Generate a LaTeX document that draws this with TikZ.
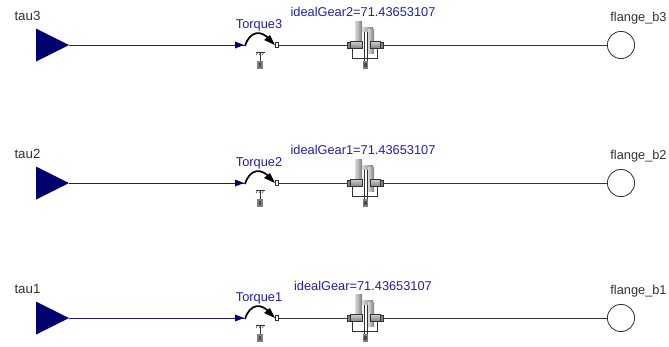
\documentclass[tikz,border=0pt]{standalone}
\usepackage{fontspec}
\setmainfont{Liberation Sans}
\definecolor{inblue}{HTML}{00006E}
\definecolor{sigblue}{HTML}{1A1A80}
\definecolor{labelblue}{HTML}{1E1EB4}
\definecolor{gearline}{HTML}{333333}
\usetikzlibrary{positioning}
\tikzset{
  inport/.style={fill=inblue, draw=none},
  sigline/.style={draw=sigblue, line width=0.7pt},
  shaft/.style={draw=gearline, line width=0.7pt},
  flangeport/.style={circle, draw=gearline, fill=white, line width=0.6pt, minimum size=20.4pt, inner sep=0pt},
  taulabel/.style={font=\fontsize{10}{12}\selectfont, text=black!80, inner sep=0pt},
  namelabel/.style={font=\fontsize{9.6}{12}\selectfont, text=black!80, inner sep=0pt},
  bluelabel/.style={font=\fontsize{9.6}{12}\selectfont, text=labelblue, inner sep=0pt},
  gearblock/.style={left color=white!70!gray, right color=gray, draw=none},
  hubblock/.style={top color=white!60!gray, bottom color=gray, draw=gearline, line width=0.4pt},
  flangebox/.style={gearline, fill=gray, line width=0.6pt},
  fixbox/.style={draw=gray, fill=black!70, line width=1pt}
}
\begin{document}
\begin{tikzpicture}[x=0.75pt, y=-0.75pt]
  \useasboundingbox (0,0) rectangle (669,347);
  \def\gearx{365}
  \foreach \n/\ypos/\gearname/\trq/\gy in{%
    3/45/{idealGear2}/{Torque3}/12,
    2/183/{idealGear1}/{Torque2}/150,
    1/318/{idealGear}/{Torque1}/286
  }{%
    % input triangle
    \coordinate (tip\n) at (69, \ypos);
    \fill[inport] (36, \ypos-16.5) -- (tip\n) -- (36, \ypos+16.5) -- cycle;
    \node[taulabel] (tau\n) at (27.5, \ypos-29) {tau\n};
    % torque block
    \coordinate (torquein\n) at (244, \ypos);
    \coordinate (torqueout\n) at (278, \ypos);
    \draw[sigline] (tip\n) -- (torquein\n);
    \fill[inblue] (torquein\n) -- ++(-9,-3.5) -- ++(0,7) -- cycle;
    \draw[black, line width=1.3pt] (245, \ypos+1) .. controls (250, \ypos-15) and (262, \ypos-15) .. (270, \ypos-5);
    \fill[black] (275, \ypos) -- (264, \ypos-5) -- (270, \ypos-10) -- cycle;
    \draw[gearline, fill=white, line width=0.5pt] (275, \ypos-2.5) rectangle (278, \ypos+2.5);
    \node[bluelabel] (torque\n) at (259, \ypos-20) {\trq};
    % support
    \draw[gearline, line width=0.5pt] (255.5, \ypos+7) -- (264.5, \ypos+7) (260, \ypos+7) -- (260, \ypos+17);
    \draw[gearline, line width=0.4pt] (256, \ypos+10) -- (258, \ypos+7) (259, \ypos+10) -- (261, \ypos+7) (262, \ypos+10) -- (264, \ypos+7);
    \draw[fixbox] (258, \ypos+17) rectangle (262, \ypos+23);
    % gear
    \fill[gearblock] (\gearx-10, \ypos-24) rectangle (\gearx-3, \ypos);
    \fill[gearblock] (\gearx-3, \ypos-18) rectangle (\gearx+8, \ypos-14);
    \fill[gearblock] (\gearx+3, \ypos-16) rectangle (\gearx+9, \ypos+8);
    \draw[hubblock] (\gearx-15, \ypos-3.5) rectangle (\gearx-3, \ypos+3.5);
    \draw[hubblock] (\gearx+5, \ypos-3.5) rectangle (\gearx+15, \ypos+3.5);
    \draw[flangebox] (\gearx-18, \ypos-3) rectangle (\gearx-15, \ypos+3);
    \draw[flangebox] (\gearx+15, \ypos-3) rectangle (\gearx+18, \ypos+3);
    \fill[white] (\gearx-1, \ypos-13) rectangle (\gearx+2, \ypos+17);
    \draw[gearline, line width=0.7pt] (\gearx-1, \ypos-13) -- (\gearx-1, \ypos+17) (\gearx+2, \ypos-13) -- (\gearx+2, \ypos+17);
    \draw[gearline, line width=0.7pt] (\gearx-13, \ypos+3.5) -- (\gearx-13, \ypos+13) -- (\gearx+12, \ypos+13) -- (\gearx+12, \ypos+3.5);
    \draw[fixbox] (\gearx-1.5, \ypos+17) rectangle (\gearx+2.5, \ypos+23);
    \coordinate (gearin\n) at (\gearx-18, \ypos);
    \coordinate (gearout\n) at (\gearx+18, \ypos);
    \node[bluelabel] (gear\n) at (363, \gy) {\gearname=71.43653107};
    % output flange
    \node[flangeport] (flange\n) at (621, \ypos) {};
    \node[namelabel] (flangename\n) at (638.5, \ypos-27) {flange\_b\n};
    \draw[shaft] (torqueout\n) -- (gearin\n);
    \draw[shaft] (gearout\n) -- (flange\n);
  }
\end{tikzpicture}
\end{document}
